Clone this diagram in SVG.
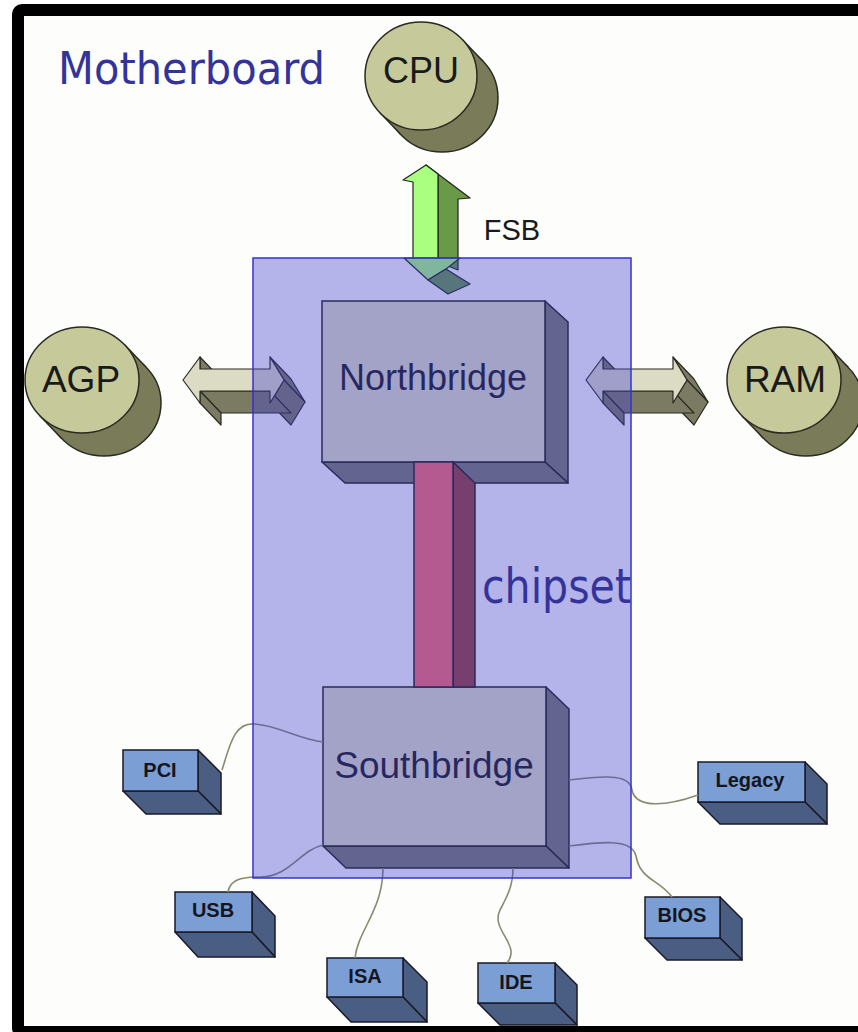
<svg xmlns="http://www.w3.org/2000/svg" width="858" height="1032" viewBox="0 0 858 1032">
<defs>
<style>
.lbl{font-family:"Liberation Sans",Arial,sans-serif;fill:#1a1a1a;text-anchor:middle}
.cyl-f{fill:#c6ca9a;stroke:#2a2a22;stroke-width:1.5}
.cyl-b{fill:#7a7b58;stroke:#2a2a22;stroke-width:1.5}
.cyl-s{fill:#7a7b58;stroke:none}
.edge{stroke:#2a2a22;stroke-width:1.5}
.blk-f{fill:#e2e2c2;stroke:#1f1f14;stroke-width:1.5}
.blk-d{fill:#7c7c69;stroke:#1f1f14;stroke-width:1.5;stroke-linejoin:round}
.box-f{fill:#7b9fd4;stroke:#1a1a28;stroke-width:1.5}
.box-d{fill:#4a5e84;stroke:#1a1a28;stroke-width:1.5;stroke-linejoin:round}
.box-t{font-family:"Liberation Sans",Arial,sans-serif;font-weight:bold;font-size:20px;fill:#151520;text-anchor:middle}
.arr-f{fill:#dcdcc4;stroke:#2a2a22;stroke-width:1.2;stroke-linejoin:round}
.arr-d{fill:#7b7b63;stroke:#2a2a22;stroke-width:1.2;stroke-linejoin:round}
.wire{fill:none;stroke:#8a8a70;stroke-width:1.6}
.title{font-family:"DejaVu Sans",Verdana,sans-serif;fill:#333399}
</style>
</defs>
<rect x="0" y="0" width="858" height="1032" fill="#ffffff"/>
<g id="frame">
<rect x="18" y="10" width="900" height="1022" rx="4" fill="#fdfdfb" stroke="#000" stroke-width="12"/>
</g>

<g id="cpu">
<ellipse class="cyl-b" cx="442" cy="98" rx="56" ry="54"/>
<polygon class="cyl-s" points="462.2,39.4 483.2,61.4 400.8,134.6 379.8,112.6"/>
<line class="edge" x1="462.2" y1="39.4" x2="483.2" y2="61.4"/>
<line class="edge" x1="379.8" y1="112.6" x2="400.8" y2="134.6"/>
<ellipse class="cyl-f" cx="421" cy="76" rx="56" ry="54"/>
<text class="lbl" x="421" y="83" font-size="36">CPU</text>
</g>

<g id="agp">
<ellipse class="cyl-b" cx="104" cy="403" rx="57" ry="53"/>
<polygon class="cyl-s" points="124.6,344.8 146.6,367.8 61.4,438.2 39.4,415.2"/>
<line class="edge" x1="124.6" y1="344.8" x2="146.6" y2="367.8"/>
<line class="edge" x1="39.4" y1="415.2" x2="61.4" y2="438.2"/>
<ellipse class="cyl-f" cx="82" cy="380" rx="57" ry="53"/>
<text class="lbl" x="81" y="392" font-size="37">AGP</text>
</g>

<g id="ram">
<ellipse class="cyl-b" cx="806" cy="403" rx="57" ry="53"/>
<polygon class="cyl-s" points="826.6,344.8 848.6,367.8 763.4,438.2 741.4,415.2"/>
<line class="edge" x1="826.6" y1="344.8" x2="848.6" y2="367.8"/>
<line class="edge" x1="741.4" y1="415.2" x2="763.4" y2="438.2"/>
<ellipse class="cyl-f" cx="784" cy="380" rx="57" ry="53"/>
<text class="lbl" x="785" y="392" font-size="37">RAM</text>
</g>

<g id="northbridge">
<polygon class="blk-d" points="545,301 568,322 568,483 545,462"/>
<polygon class="blk-d" points="322,462 545,462 568,483 345,483"/>
<rect class="blk-f" x="322" y="301" width="223" height="161"/>
<text class="lbl" x="433" y="390" font-size="36" fill="#111">Northbridge</text>
</g>

<g id="southbridge">
<polygon class="blk-d" points="546,687 569,709 569,868 546,846"/>
<polygon class="blk-d" points="323,846 546,846 569,868 346,868"/>
<rect class="blk-f" x="323" y="687" width="223" height="159"/>
<text class="lbl" x="434" y="778" font-size="37">Southbridge</text>
</g>

<g id="pci">
<polygon class="box-d" points="198,750 221,773 221,814 198,791"/>
<polygon class="box-d" points="123,791 198,791 221,814 146,814"/>
<rect class="box-f" x="123" y="750" width="75" height="41"/>
<text class="box-t" x="160" y="777">PCI</text>
</g>

<g id="legacy">
<polygon class="box-d" points="805,762 827,784 827,824 805,802"/>
<polygon class="box-d" points="698,802 805,802 827,824 720,824"/>
<rect class="box-f" x="698" y="762" width="107" height="40"/>
<text class="box-t" x="750" y="787">Legacy</text>
</g>

<g id="bios">
<polygon class="box-d" points="720,897 742,919 742,960 720,938"/>
<polygon class="box-d" points="645,938 720,938 742,960 667,960"/>
<rect class="box-f" x="645" y="897" width="75" height="41"/>
<text class="box-t" x="682" y="922">BIOS</text>
</g>

<g id="usb">
<polygon class="box-d" points="252,892 275,916 275,957 252,932"/>
<polygon class="box-d" points="175,932 252,932 275,957 198,957"/>
<rect class="box-f" x="175" y="892" width="77" height="40"/>
<text class="box-t" x="213" y="917">USB</text>
</g>

<g id="isa">
<polygon class="box-d" points="403,958 427,982 427,1022 403,997"/>
<polygon class="box-d" points="327,997 403,997 427,1022 351,1022"/>
<rect class="box-f" x="327" y="958" width="76" height="39"/>
<text class="box-t" x="365" y="983">ISA</text>
</g>

<g id="ide">
<polygon class="box-d" points="555,963 577,985 577,1025 555,1003"/>
<polygon class="box-d" points="478,1003 555,1003 577,1025 500,1025"/>
<rect class="box-f" x="478" y="963" width="77" height="40"/>
<text class="box-t" x="516" y="989">IDE</text>
</g>

<g id="connectors">
<g id="fsb">
<polygon points="426,165 470,198 458,199 458,270 438,262 438,174" fill="#689a48" stroke="#222" stroke-width="1.2" stroke-linejoin="round"/>
<polygon points="426,165 438,174 438,262 413,262 413,182 403,180" fill="#aaff80" stroke="#222" stroke-width="1.2" stroke-linejoin="round"/>
<polygon points="404,258 460,258 446,269 428,280" fill="#aaff80" stroke="#222" stroke-width="1.2" stroke-linejoin="round"/>
<polygon points="428,280 446,269 470,284 448,294" fill="#689a48" stroke="#222" stroke-width="1.2" stroke-linejoin="round"/>
<text class="lbl" x="512" y="240" font-size="29">FSB</text>
</g>
<g id="agp-link">
<polygon class="arr-d" points="200,357 200,369 221,391 221,379"/>
<polygon class="arr-d" points="270,357 284,380 305,402 291,379"/>
<polygon class="arr-d" points="284,380 270,403 291,425 305,402"/>
<polygon class="arr-d" points="270,391 200,391 221,413 291,413"/>
<polygon class="arr-d" points="200,391 200,403 221,425 221,413"/>
<polygon class="arr-f" points="183,380 200,357 200,369 270,369 270,357 284,380 270,403 270,391 200,391 200,403"/>
</g>
<g id="ram-link">
<polygon class="arr-d" points="603,357 603,369 624,391 624,379"/>
<polygon class="arr-d" points="673,357 687,380 708,402 694,379"/>
<polygon class="arr-d" points="687,380 673,403 694,425 708,402"/>
<polygon class="arr-d" points="673,391 603,391 624,413 694,413"/>
<polygon class="arr-d" points="603,391 603,403 624,425 624,413"/>
<polygon class="arr-f" points="586,380 603,357 603,369 673,369 673,357 687,380 673,403 673,391 603,391 603,403"/>
</g>
<g id="bus">
<polygon points="453,462 475,483 475,687 453,687" fill="#9b4131" stroke="#1f1f14" stroke-width="1.5"/>
<rect x="414" y="462" width="39" height="225" fill="#ff6c6a" stroke="#1f1f14" stroke-width="1.5"/>
</g>
<path class="wire" d="M222,770 C230,745 234,722 255,724 C280,726 300,740 323,742"/>
<path class="wire" d="M228,892 C230,880 240,877 260,877 C290,877 300,850 323,845"/>
<path class="wire" d="M355,958 C358,930 383,910 383,868"/>
<path class="wire" d="M507,963 C522,945 490,930 500,910 C508,895 513,885 513,868"/>
<path class="wire" d="M569,780 C610,775 630,775 632,790 C636,810 670,805 698,795"/>
<path class="wire" d="M569,846 C600,842 632,838 636,856 C640,880 660,880 672,897"/>
</g>

<g id="chipset">
<rect x="253" y="258" width="378" height="620" fill="#3c3cd2" fill-opacity="0.38" stroke="#3333cc" stroke-width="1.5"/>
<text class="title" x="482" y="603" font-size="48" textLength="149" lengthAdjust="spacingAndGlyphs">chipset</text>
</g>

<g id="motherboard-label">
<text class="title" x="58" y="84" font-size="45" textLength="267" lengthAdjust="spacingAndGlyphs">Motherboard</text>
</g>
</svg>
